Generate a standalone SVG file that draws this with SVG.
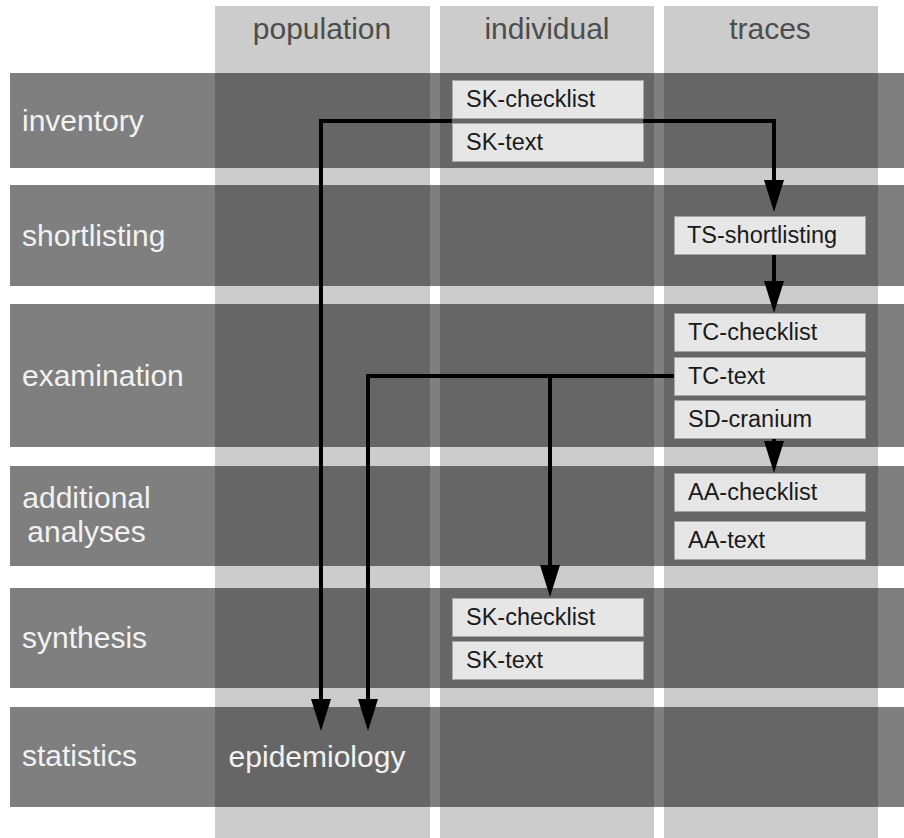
<svg xmlns="http://www.w3.org/2000/svg" width="904" height="838" viewBox="0 0 904 838">
<style>
.col{fill:#cccccc}
.row{fill:#000000;fill-opacity:0.5}
.hdr{font-family:"Liberation Sans",Arial,sans-serif;font-size:30px;fill:#4d4d4d;text-anchor:middle}
.lbl{font-family:"Liberation Sans",Arial,sans-serif;font-size:30px;fill:#f2f2f2}
.box{fill:#e6e6e6;stroke:#a6a6a6;stroke-width:1}
.bt{font-family:"Liberation Sans",Arial,sans-serif;font-size:23.5px;fill:#1a1a1a}
.conn{fill:none;stroke:#000;stroke-width:4;marker-end:url(#ah)}
</style>
<defs>
<marker id="ah" viewBox="0 0 32 20" refX="2" refY="10" markerWidth="32" markerHeight="20" markerUnits="userSpaceOnUse" orient="auto">
<path d="M0,0 L32,10 L0,20 z" fill="#000"/>
</marker>
</defs>
<rect width="904" height="838" fill="#ffffff"/>
<g id="columns">
<g id="col-population"><rect class="col" x="215" y="6" width="215" height="832"/><text class="hdr" x="322" y="39">population</text></g>
<g id="col-individual"><rect class="col" x="440" y="6" width="214" height="832"/><text class="hdr" x="547" y="39">individual</text></g>
<g id="col-traces"><rect class="col" x="664" y="6" width="214" height="832"/><text class="hdr" x="770" y="39">traces</text></g>
</g>
<g id="rows">
<g id="row-inventory"><rect class="row" x="10" y="73" width="894" height="95"/><text class="lbl" x="22" y="131">inventory</text></g>
<g id="row-shortlisting"><rect class="row" x="10" y="185" width="894" height="101"/><text class="lbl" x="22" y="246">shortlisting</text></g>
<g id="row-examination"><rect class="row" x="10" y="304" width="894" height="143"/><text class="lbl" x="22" y="386">examination</text></g>
<g id="row-additional"><rect class="row" x="10" y="466" width="894" height="100"/><text class="lbl" x="86.5" y="508" text-anchor="middle">additional</text><text class="lbl" x="86.5" y="542" text-anchor="middle">analyses</text></g>
<g id="row-synthesis"><rect class="row" x="10" y="588" width="894" height="100"/><text class="lbl" x="22" y="648">synthesis</text></g>
<g id="row-statistics"><rect class="row" x="10" y="707" width="894" height="100"/><text class="lbl" x="22" y="766">statistics</text></g>
</g>
<g id="connectors">
<path class="conn" d="M452,121 H321 V701"/>
<path class="conn" d="M643,121 H774 V182"/>
<path class="conn" d="M774,254 V283"/>
<path class="conn" d="M774,438 V443"/>
<path class="conn" d="M674,376 H368 V701"/>
<path class="conn" d="M550,376 V567"/>
</g>
<g id="node-sk-checklist-1"><rect class="box" x="452.5" y="80.5" width="191" height="38"/><text class="bt" x="466" y="107">SK-checklist</text></g>
<g id="node-sk-text-1"><rect class="box" x="452.5" y="123.5" width="191" height="38"/><text class="bt" x="466" y="150">SK-text</text></g>
<g id="node-ts-shortlisting"><rect class="box" x="674.5" y="216.5" width="191" height="38"/><text class="bt" x="687" y="243">TS-shortlisting</text></g>
<g id="node-tc-checklist"><rect class="box" x="674.5" y="313.5" width="191" height="38"/><text class="bt" x="688" y="340">TC-checklist</text></g>
<g id="node-tc-text"><rect class="box" x="674.5" y="357.5" width="191" height="38"/><text class="bt" x="688" y="384">TC-text</text></g>
<g id="node-sd-cranium"><rect class="box" x="674.5" y="400.5" width="191" height="38"/><text class="bt" x="688" y="427">SD-cranium</text></g>
<g id="node-aa-checklist"><rect class="box" x="674.5" y="473.5" width="191" height="38"/><text class="bt" x="688" y="500">AA-checklist</text></g>
<g id="node-aa-text"><rect class="box" x="674.5" y="521.5" width="191" height="38"/><text class="bt" x="688" y="548">AA-text</text></g>
<g id="node-sk-checklist-2"><rect class="box" x="452.5" y="598.5" width="191" height="38"/><text class="bt" x="466" y="625">SK-checklist</text></g>
<g id="node-sk-text-2"><rect class="box" x="452.5" y="641.5" width="191" height="38"/><text class="bt" x="466" y="668">SK-text</text></g>
<g id="node-epidemiology"><text class="lbl" x="317" y="767" text-anchor="middle">epidemiology</text></g>
</svg>
